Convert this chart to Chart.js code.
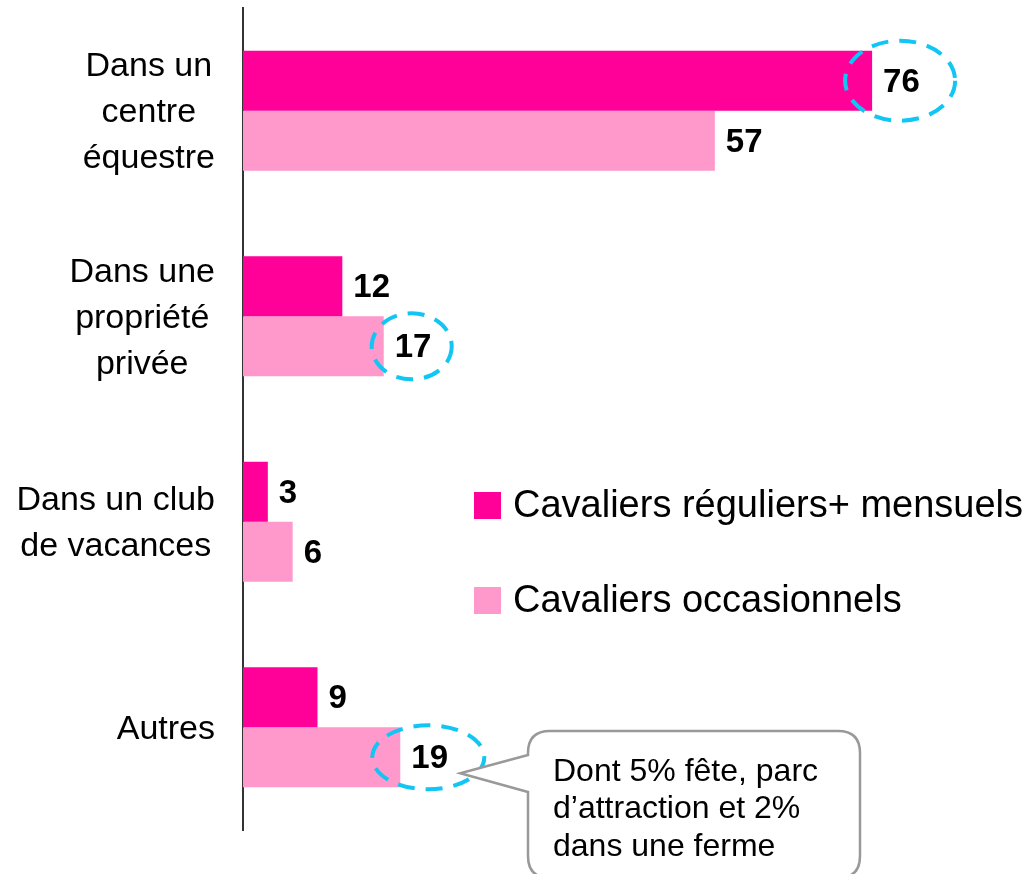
<!DOCTYPE html>
<html lang="fr">
<head>
<meta charset="utf-8">
<script src="https://cdn.jsdelivr.net/npm/chart.js@4"></script>
<style>
html, body { margin: 0; padding: 0; background: #fff; }
#wrap { width: 1028px; height: 874px; position: relative; }
</style>
</head>
<body>
<div id="wrap"><canvas id="lieuxChart"></canvas></div>
<script>
// data
const categories = [["Dans un", "centre", "équestre"], ["Dans une", "propriété", "privée"], ["Dans un club", "de vacances"], ["Autres"]];
const seriesNames = ["Cavaliers réguliers+ mensuels", "Cavaliers occasionnels"];
const reguliers = [76, 12, 3, 9];
const occasionnels = [57, 17, 6, 19];
const highlighted = [[0, 0], [1, 1], [1, 3]]; // [dataset, category] circled in blue
const calloutLines = ["Dont 5% fête, parc", "d’attraction et 2%", "dans une ferme"];

const colors = ["#FF0099", "#FF99CC"];
const FONT = "'Liberation Sans', Arial, sans-serif";
// ellipse sizes for the circled values (rx, ry), same order as highlighted
const ringSizes = [[55, 40], [40, 33], [56, 32]];

const decorPlugin = {
    id: "decor",
    afterDatasetsDraw(chart) {
        const ctx = chart.ctx;
        const yScale = chart.scales.y;
        ctx.save();

        // category labels: centred block, right-aligned against the axis
        ctx.fillStyle = "#000";
        ctx.font = "34px " + FONT;
        ctx.textAlign = "center";
        ctx.textBaseline = "middle";
        categories.forEach((lines, i) => {
            const cy = yScale.getPixelForValue(i) + 2;
            const w = Math.max(...lines.map(l => ctx.measureText(l).width));
            const cx = 215 - w / 2;
            const lh = 46;
            const top = cy - (lines.length - 1) * lh / 2;
            lines.forEach((l, k) => ctx.fillText(l, cx, top + k * lh));
        });

        // value labels
        ctx.font = "bold 33px " + FONT;
        ctx.textAlign = "left";
        chart.data.datasets.forEach((ds, di) => {
            chart.getDatasetMeta(di).data.forEach((bar, i) => {
                ctx.fillText(String(ds.data[i]), bar.x + 11, bar.y + 2);
            });
        });

        // dashed rings
        ctx.strokeStyle = "#11C6F5";
        ctx.lineWidth = 4;
        ctx.setLineDash([17, 11]);
        highlighted.forEach(([di, i], k) => {
            const bar = chart.getDatasetMeta(di).data[i];
            ctx.beginPath();
            ctx.ellipse(bar.x + 28, bar.y, ringSizes[k][0], ringSizes[k][1], 0, 0, Math.PI * 2);
            ctx.stroke();
        });
        ctx.setLineDash([]);

        // legend
        ctx.font = "38px " + FONT;
        ctx.textBaseline = "middle";
        seriesNames.forEach((name, k) => {
            const y = 492 + k * 95;
            ctx.fillStyle = colors[k];
            ctx.fillRect(474, y, 27, 27);
            ctx.fillStyle = "#000";
            ctx.fillText(name, 513, y + 15);
        });

        // callout bubble pointing at the last circled value
        const last = chart.getDatasetMeta(1).data[3];
        const tipX = last.x + 60, tipY = last.y + 16;
        const bx = 528, by = 731, bw = 332, bh = 147, r = 22;
        ctx.beginPath();
        ctx.moveTo(bx + r, by);
        ctx.lineTo(bx + bw - r, by);
        ctx.quadraticCurveTo(bx + bw, by, bx + bw, by + r);
        ctx.lineTo(bx + bw, by + bh - r);
        ctx.quadraticCurveTo(bx + bw, by + bh, bx + bw - r, by + bh);
        ctx.lineTo(bx + r, by + bh);
        ctx.quadraticCurveTo(bx, by + bh, bx, by + bh - r);
        ctx.lineTo(bx, 792);
        ctx.lineTo(tipX, tipY);
        ctx.lineTo(bx, 755);
        ctx.lineTo(bx, by + r);
        ctx.quadraticCurveTo(bx, by, bx + r, by);
        ctx.closePath();
        ctx.fillStyle = "#fff";
        ctx.fill();
        ctx.strokeStyle = "#999";
        ctx.lineWidth = 2.5;
        ctx.stroke();

        ctx.fillStyle = "#000";
        ctx.font = "32px " + FONT;
        calloutLines.forEach((l, k) => ctx.fillText(l, 553, 772 + k * 37.5));

        ctx.restore();
    }
};

new Chart(document.getElementById("lieuxChart"), {
    type: "bar",
    data: {
        labels: categories,
        datasets: [
            { label: seriesNames[0], data: reguliers, backgroundColor: colors[0] },
            { label: seriesNames[1], data: occasionnels, backgroundColor: colors[1] }
        ]
    },
    options: {
        indexAxis: "y",
        responsive: true,
        maintainAspectRatio: false,
        animation: false,
        categoryPercentage: 0.585,
        barPercentage: 1,
        layout: { padding: { top: 8, bottom: 44, right: 40, left: 0 } },
        plugins: {
            legend: { display: false },
            tooltip: { enabled: false }
        },
        scales: {
            x: { display: false, min: 0, max: 90 },
            y: {
                position: "left",
                grid: { display: false },
                ticks: { display: false },
                border: { display: true, color: "#333", width: 2 },
                afterFit: s => { s.width = 243; }
            }
        }
    },
    plugins: [decorPlugin]
});
</script>
</body>
</html>
